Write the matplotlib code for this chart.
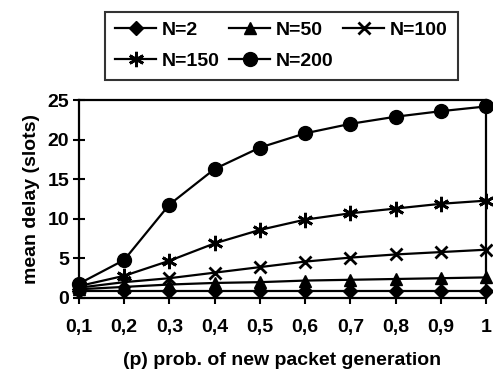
import matplotlib
matplotlib.use("Agg")
import matplotlib.pyplot as plt

# prob. of new packet generation
p_vals = [0.1, 0.2, 0.3, 0.4, 0.5, 0.6, 0.7, 0.8, 0.9, 1.0]
p_labels = ["0,1", "0,2", "0,3", "0,4", "0,5", "0,6", "0,7", "0,8", "0,9", "1"]

# mean delay (slots) per number of stations
delay_n2 = [0.9, 0.9, 0.9, 0.9, 0.9, 0.9, 0.9, 0.9, 0.9, 0.9]
delay_n50 = [1.1, 1.4, 1.7, 1.9, 2.0, 2.2, 2.3, 2.4, 2.5, 2.6]
delay_n100 = [1.3, 2.0, 2.5, 3.2, 3.9, 4.6, 5.1, 5.5, 5.8, 6.1]
delay_n150 = [1.5, 2.8, 4.7, 6.9, 8.6, 9.9, 10.7, 11.3, 11.9, 12.3]
delay_n200 = [1.8, 4.8, 11.8, 16.3, 19.0, 20.8, 22.0, 22.9, 23.6, 24.2]

plt.rcParams['font.family'] = ['Liberation Sans', 'DejaVu Sans']
plt.rcParams['font.weight'] = 'bold'

fig = plt.figure(figsize=(4.93, 3.85), dpi=100)
ax = fig.add_axes([0.160, 0.226, 0.826, 0.514])

lw = 1.6
h2, = ax.plot(p_vals, delay_n2, color='black', lw=lw, marker='D', ms=7, label='N=2', clip_on=False)
h50, = ax.plot(p_vals, delay_n50, color='black', lw=lw, marker='^', ms=8, label='N=50', clip_on=False)
h100, = ax.plot(p_vals, delay_n100, color='black', lw=lw, marker='x', ms=9, mew=2, label='N=100', clip_on=False)
h150, = ax.plot(p_vals, delay_n150, color='black', lw=lw, marker=(6, 2, 0), ms=11, mew=2, label='N=150', clip_on=False)
h200, = ax.plot(p_vals, delay_n200, color='black', lw=lw, marker='o', ms=10, label='N=200', clip_on=False)

ax.set_xlim(0.1, 1.0)
ax.set_ylim(0, 25)
ax.set_xticks(p_vals)
ax.set_xticklabels(p_labels)
ax.set_yticks([0, 5, 10, 15, 20, 25])
ax.tick_params(direction='inout', length=8, width=1.5, labelsize=14, pad=11)
ax.tick_params(axis='y', pad=3)
for s in ax.spines.values():
    s.set_linewidth(1.6)

ax.set_xlabel("(p) prob. of new packet generation", fontsize=14, fontweight='bold', labelpad=12)
ax.set_ylabel("mean delay (slots)", fontsize=14, fontweight='bold', labelpad=5)

# row-wise order in a 3-column legend
handles = [h2, h150, h50, h200, h100]
leg = fig.legend(handles=handles, labels=[h.get_label() for h in handles],
                 loc='upper center', bbox_to_anchor=(0.571, 0.995), ncol=3,
                 fontsize=14, frameon=True, fancybox=False, edgecolor='black',
                 handlelength=2.1, handletextpad=0.3, columnspacing=0.5,
                 borderpad=0.5, labelspacing=0.7)
leg.get_frame().set_linewidth(1.5)

fig.savefig("out.png", dpi=100)
